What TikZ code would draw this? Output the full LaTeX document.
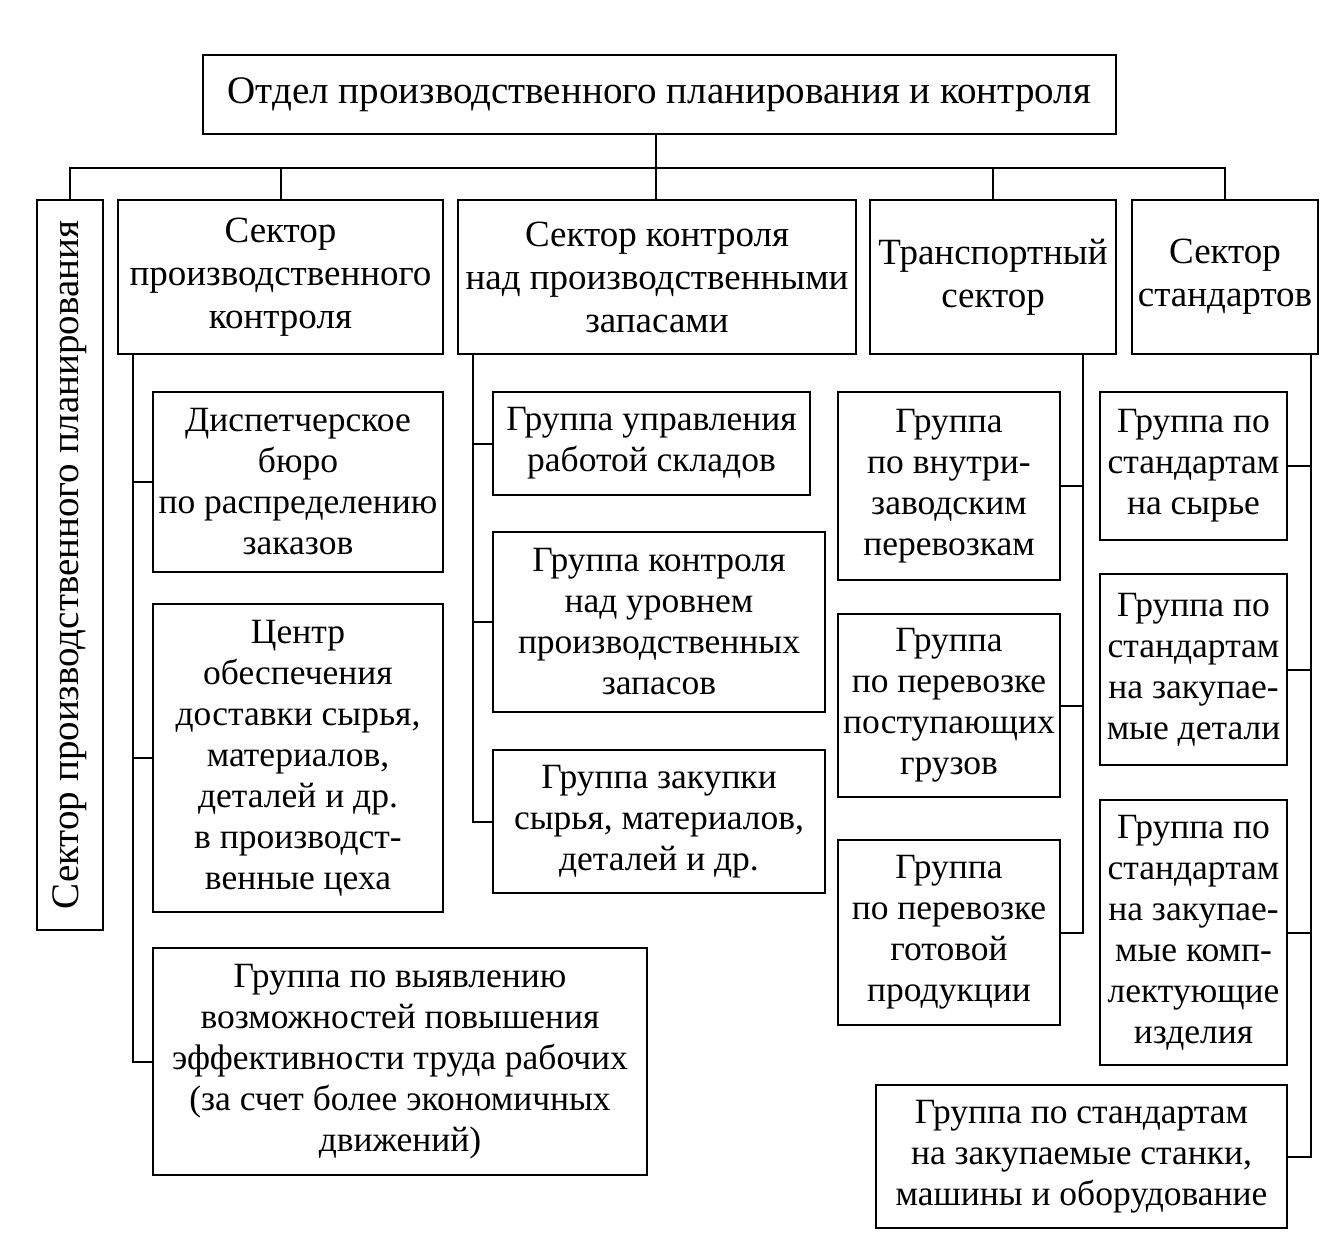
\documentclass[tikz,border=0pt]{standalone}
\usepackage{fontspec}
\setmainfont{Liberation Serif}
\begin{document}
\begin{tikzpicture}[x=1pt,y=-1pt,
  box/.style={draw, line width=2pt, align=center, inner sep=0pt,
    font=\fontsize{35.5}{41}\selectfont},
  sbox/.style={box, font=\fontsize{37}{43}\selectfont},
  conn/.style={line width=2pt}]
\useasboundingbox (0,0) rectangle (1344,1248);
% top
\node[box, minimum width=913pt, minimum height=79pt, font=\fontsize{39}{44}\selectfont] (top) at (659.5,94.5) {Отдел производственного планирования и контроля};
% sectors
\node[sbox, minimum width=66pt, minimum height=730pt] (plan) at (70,565) {};
\node[rotate=90, font=\fontsize{39}{44}\selectfont] (plantext) at (plan.center) {Сектор производственного планирования};
\node[sbox, minimum width=325pt, minimum height=154pt] (s1) at (280.5,277) {Сектор\\производственного\\контроля};
\node[sbox, minimum width=398pt, minimum height=154pt] (s2) at (657,277) {Сектор контроля\\над производственными\\запасами};
\node[sbox, minimum width=246pt, minimum height=154pt] (s3) at (993,277) {Транспортный\\сектор};
\node[sbox, minimum width=186pt, minimum height=154pt] (s4) at (1225,277) {Сектор\\стандартов};
% bus
\coordinate (bus) at (656,168);
\draw[conn] (top.south -| bus) -- (bus);
\draw[conn] (plan.north) |- (bus) -| (s4.north);
\draw[conn] (s1.north) -- (s1.north |- bus);
\draw[conn] (s2.north -| bus) -- (bus);
\draw[conn] (s3.north) -- (s3.north |- bus);
% column 1
\node[box, minimum width=290pt, minimum height=180pt] (a1) at (298,482) {Диспетчерское\\бюро\\по распределению\\заказов};
\node[box, minimum width=290pt, minimum height=308pt] (a2) at (298,758) {Центр\\обеспечения\\доставки сырья,\\материалов,\\деталей и др.\\в производст-\\венные цеха};
\node[box, minimum width=494pt, minimum height=227pt] (a3) at (400,1061.5) {Группа по выявлению\\возможностей повышения\\эффективности труда рабочих\\(за счет более экономичных\\движений)};
\coordinate (c1) at (133,354);
\draw[conn] (c1) |- (a3.west);
\draw[conn] (a1.west) -- (a1.west -| c1);
\draw[conn] (a2.west) -- (a2.west -| c1);
% column 2
\node[box, minimum width=317pt, minimum height=103pt] (b1) at (651.5,443.5) {Группа управления\\работой складов};
\node[box, minimum width=332pt, minimum height=180pt] (b2) at (659,622) {Группа контроля\\над уровнем\\производственных\\запасов};
\node[box, minimum width=332pt, minimum height=143pt] (b3) at (659,821.5) {Группа закупки\\сырья, материалов,\\деталей и др.};
\coordinate (c2) at (473,354);
\draw[conn] (c2) |- (b3.west);
\draw[conn] (b1.west) -- (b1.west -| c2);
\draw[conn] (b2.west) -- (b2.west -| c2);
% column 3
\node[box, minimum width=222pt, minimum height=188pt] (t1) at (949,486) {Группа\\по внутри-\\заводским\\перевозкам};
\node[box, minimum width=222pt, minimum height=183pt] (t2) at (949,705.5) {Группа\\по перевозке\\поступающих\\грузов};
\node[box, minimum width=222pt, minimum height=185pt] (t3) at (949,932.5) {Группа\\по перевозке\\готовой\\продукции};
\coordinate (c3) at (1083,354);
\draw[conn] (c3) |- (t3.east);
\draw[conn] (t1.east) -- (t1.east -| c3);
\draw[conn] (t2.east) -- (t2.east -| c3);
% column 4
\node[box, minimum width=187pt, minimum height=148pt] (d1) at (1193.5,466) {Группа по\\стандартам\\на сырье};
\node[box, minimum width=187pt, minimum height=191pt] (d2) at (1193.5,669.5) {Группа по\\стандартам\\на закупае-\\мые детали};
\node[box, minimum width=187pt, minimum height=265pt] (d3) at (1193.5,932.5) {Группа по\\стандартам\\на закупае-\\мые комп-\\лектующие\\изделия};
\node[box, minimum width=411pt, minimum height=143pt] (d4) at (1081.5,1156.5) {Группа по стандартам\\на закупаемые станки,\\машины и оборудование};
\coordinate (c4) at (1311,354);
\draw[conn] (c4) |- (d4.east);
\draw[conn] (d1.east) -- (d1.east -| c4);
\draw[conn] (d2.east) -- (d2.east -| c4);
\draw[conn] (d3.east) -- (d3.east -| c4);
\end{tikzpicture}
\end{document}
